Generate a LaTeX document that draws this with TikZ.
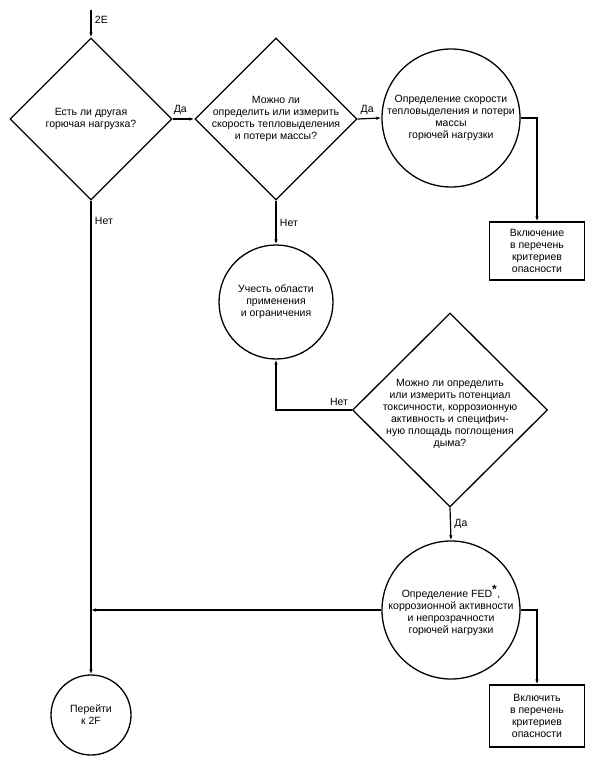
\documentclass[tikz,border=0pt]{standalone}
\usepackage{fontspec}
\setmainfont{Liberation Sans}
\usepackage{tikz}
\usetikzlibrary{arrows.meta, shapes.geometric}

\newcommand{\flowfont}{\fontsize{10.5}{12}\selectfont}
\tikzset{
  decision/.style={draw, diamond, aspect=1, inner sep=0pt, line width=1.3pt},
  term/.style={draw, circle, inner sep=0pt, line width=1.3pt},
  crit/.style={draw, rectangle, line width=1.3pt, minimum width=95pt, minimum height=58pt, align=center},
  txt/.style={align=center},
  flow/.style={line width=1.2pt, -{Latex[length=5pt,width=3.5pt]}},
}

\begin{document}
\begin{tikzpicture}[x=1pt, y=-1pt, font=\flowfont]
  \useasboundingbox (0,0) rectangle (598,768);

  % Decisions
  \node[decision, minimum width=162pt, minimum height=162pt] (other) at (91,119) {};
  \node[decision, minimum width=162pt, minimum height=162pt] (heat) at (276,119) {};
  \node[decision, minimum width=195pt, minimum height=194pt] (tox) at (450,410) {};

  % Circles
  \node[term, minimum size=138pt] (heatdet) at (451,118) {};
  \node[term, minimum size=114pt] (scope) at (276,302) {};
  \node[term, minimum size=138pt] (feddet) at (451,610) {};
  \node[term, minimum size=80pt] (goto) at (91,715) {};

  % Boxes
  \node[crit] (incl1) at (537,251) {Включение\\в перечень\\критериев\\опасности};
  \node[crit, minimum height=62pt] (incl2) at (537,716) {Включить\\в перечень\\критериев\\опасности};

  % Texts
  \node[txt] (other-t) at (other) {Есть ли другая\\горючая нагрузка?};
  \node[txt] (heat-t) at (heat) {Можно ли\\определить или измерить\\скорость тепловыделения\\и потери массы?};
  \node[txt] (tox-t) at (450,414) {Можно ли определить\\или измерить потенциал\\токсичности, коррозионную\\активность и специфич-\\ную площадь поглощения\\дыма?};
  \node[txt] (heatdet-t) at (heatdet) {Определение скорости\\тепловыделения и потери\\массы\\горючей нагрузки};
  \node[txt] (scope-t) at (scope) {Учесть области\\применения\\и ограничения};
  \node[txt] (feddet-t) at (feddet) {Определение FED\textsuperscript{\large\textbf{*}},\\коррозионной активности\\и непрозрачности\\горючей нагрузки};
  \node[txt] (goto-t) at (goto) {Перейти\\к 2F};

  % Connectors
  \coordinate (entry) at (91,10);
  \draw[flow] (entry) -- node[right, pos=0.35] {2E} (other.north);
  \draw[flow] (other.east) -- node[above, pos=0.35] {Да} (heat.west);
  \draw[flow] (heat.east) -- node[above, pos=0.4] {Да} (heatdet.west);
  \draw[flow] (heatdet.east) -| (incl1.north);
  \draw[flow] (heat.south) -- node[right] {Нет} (scope.north);
  \draw[flow] (tox.west) -| node[at start, above left] {Нет} (scope.south);
  \draw[flow] (tox.south) -- node[right] {Да} (feddet.north);
  \draw[flow] (feddet.east) -| (incl2.north);
  \coordinate (merge) at (feddet.west -| other.south);
  \draw[flow] (feddet.west) -- (merge);
  \draw[flow] (other.south) -- node[at start, right, yshift=-20pt] {Нет} (goto.north);
\end{tikzpicture}
\end{document}
